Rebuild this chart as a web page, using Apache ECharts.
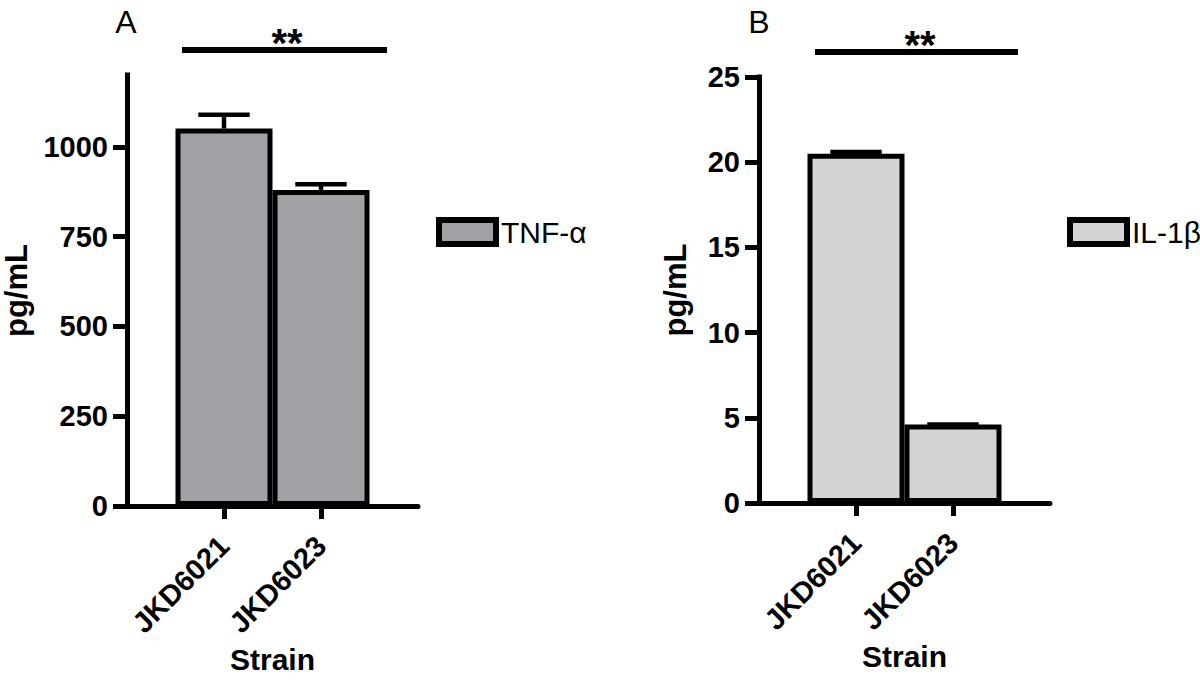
<!DOCTYPE html>
<html><head><meta charset="utf-8">
<script src="https://cdn.jsdelivr.net/npm/echarts@6/dist/echarts.min.js"></script>
<style>html,body{margin:0;padding:0;background:#fff}#c{width:1200px;height:683px}</style>
</head><body><div id="c"></div>
<script>
const strains = ['JKD6021', 'JKD6023'];
const tnfMean = [1051, 880];
const tnfSD = [38, 16];
const il1bMean = [20.5, 4.6];
const il1bSD = [0.1, 0];
const yTicksA = [0, 250, 500, 750, 1000];
const yTicksB = [0, 5, 10, 15, 20, 25];
const seriesNames = ['TNF-α', 'IL-1β'];
const panelLetters = ['A', 'B'];
const sigText = '**';

const FONT = 'Liberation Sans, Arial, Helvetica, sans-serif';
const LW = 5;
const cats = [' ', ...strains, '  '];
const padVals = arr => [null, ...arr, null];

function errData(mean, sd) { return mean.map((m, i) => [i + 1, m, sd[i]]); }

function errRender(params, api) {
  const x = api.value(0), m = api.value(1), s = api.value(2);
  const base = api.coord([x, m]);
  const top = api.coord([x, m + s]);
  const half = api.size([1, 0])[0] * 0.265;
  const st = { stroke: '#000', lineWidth: 4.5 };
  return { type: 'group', children: [
    { type: 'line', shape: { x1: base[0], y1: base[1], x2: top[0], y2: top[1] }, style: st },
    { type: 'line', shape: { x1: top[0] - half, y1: top[1], x2: top[0] + half, y2: top[1] }, style: st }
  ]};
}

function xAxisCfg(gi) {
  return {
    type: 'category', gridIndex: gi, data: cats, boundaryGap: false,
    axisLine: { lineStyle: { color: '#000', width: LW } },
    axisTick: { length: 13, lineStyle: { color: '#000', width: LW }, interval: (i, v) => v.trim() !== '' },
    axisLabel: { interval: 0, rotate: 45, margin: 35, color: '#000', fontWeight: 'bold', fontSize: 29, fontFamily: FONT },
    name: 'Strain', nameLocation: 'middle', nameGap: 136,
    nameTextStyle: { color: '#000', fontWeight: 'bold', fontSize: 30, fontFamily: FONT },
    splitLine: { show: false }
  };
}
function yAxisCfg(gi, max, interval, ticks, gap) {
  return {
    type: 'value', gridIndex: gi, min: 0, max: max, interval: interval,
    axisLine: { show: true, lineStyle: { color: '#000', width: LW, cap: 'square' } },
    axisTick: { show: true, length: 14, customValues: ticks, lineStyle: { color: '#000', width: LW } },
    axisLabel: { customValues: ticks, formatter: v => String(v), margin: 19, color: '#000', fontWeight: 'bold', fontSize: 29, fontFamily: FONT },
    splitLine: { show: false },
    name: 'pg/mL', nameLocation: 'middle', nameGap: gap, nameRotate: 90,
    nameTextStyle: { color: '#000', fontWeight: 'bold', fontSize: 31, fontFamily: FONT }
  };
}
function legendCfg(name, left, fill) {
  return {
    data: [name], left: left, top: 212, icon: 'rect', itemWidth: 57, itemHeight: 24, itemGap: 10,
    itemStyle: { color: fill, borderColor: '#000', borderWidth: 6 },
    textStyle: { color: '#000', fontSize: 30, fontWeight: 'normal', fontFamily: FONT },
    selectedMode: false
  };
}

const textEl = (x, y, text, size, weight) => ({
  type: 'text', x: x, y: y,
  style: { text: text, align: 'center', verticalAlign: 'middle', font: weight + ' ' + size + 'px ' + FONT, fill: '#000' }
});

const chart = echarts.init(document.getElementById('c'), null, { renderer: 'svg' });
chart.setOption({
  animation: false,
  backgroundColor: '#fff',
  grid: [
    { left: 127, top: 75, width: 291, height: 431 },
    { left: 759, top: 77, width: 291, height: 426 }
  ],
  xAxis: [xAxisCfg(0), xAxisCfg(1)],
  yAxis: [yAxisCfg(0, 1200, 250, yTicksA, 95), yAxisCfg(1, 25, 5, yTicksB, 68)],
  legend: [legendCfg(seriesNames[0], 431, '#a1a1a5'), legendCfg(seriesNames[1], 1062, '#d4d4d4')],
  series: [
    { type: 'bar', name: seriesNames[0], xAxisIndex: 0, yAxisIndex: 0, data: padVals(tnfMean), barWidth: '100%',
      itemStyle: { color: '#a1a1a5', borderColor: '#000', borderWidth: LW }, z: 2 },
    { type: 'custom', name: 'errA', xAxisIndex: 0, yAxisIndex: 0, data: errData(tnfMean, tnfSD),
      encode: { x: 0, y: 1 }, renderItem: errRender, z: 3 },
    { type: 'bar', name: seriesNames[1], xAxisIndex: 1, yAxisIndex: 1, data: padVals(il1bMean), barWidth: '100%',
      itemStyle: { color: '#d4d4d4', borderColor: '#000', borderWidth: LW }, z: 2 },
    { type: 'custom', name: 'errB', xAxisIndex: 1, yAxisIndex: 1, data: errData(il1bMean, il1bSD),
      encode: { x: 0, y: 1 }, renderItem: errRender, z: 3 }
  ],
  graphic: [
    textEl(126, 22, panelLetters[0], 32, 'normal'),
    textEl(759, 22, panelLetters[1], 32, 'normal'),
    { type: 'line', shape: { x1: 182, y1: 50, x2: 387, y2: 50 }, style: { stroke: '#000', lineWidth: 6 } },
    { type: 'line', shape: { x1: 815, y1: 52, x2: 1018, y2: 52 }, style: { stroke: '#000', lineWidth: 6 } },
    textEl(287, 43, sigText, 40, 'bold'),
    textEl(920, 45, sigText, 40, 'bold')
  ]
});
</script>
</body></html>
